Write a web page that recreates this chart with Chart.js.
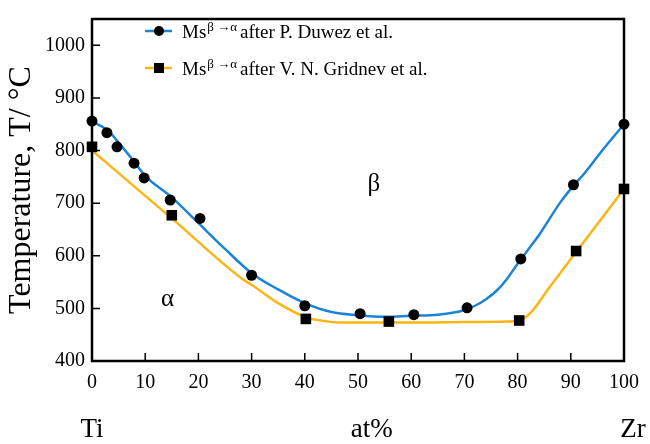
<!DOCTYPE html>
<html>
<head>
<meta charset="utf-8">
<script src="https://cdn.jsdelivr.net/npm/chart.js@4"></script>
<style>
  html, body { margin: 0; padding: 0; background: #fff; }
  #wrap { width: 650px; height: 444px; }
</style>
</head>
<body>
<div id="wrap"><canvas id="msChart" width="650" height="444"></canvas></div>
<script>
// Measured points (at% Zr vs. temperature)
const duwezX = [0, 2.8, 4.7, 7.9, 9.8, 14.7, 20.3, 30, 40, 50.4, 60.5, 70.5, 80.6, 90.5, 100];
const duwezT = [856, 834, 807, 776, 748, 706, 671, 563, 505, 490, 488, 501, 594, 735, 850];
const gridnevX = [0, 15, 40.2, 55.8, 80.3, 91, 100];
const gridnevT = [807, 677, 480, 475, 477, 609, 727];

// Curves
const duwezCurveX = [0, 3, 5, 8, 10, 15, 20, 25, 30, 35, 40, 45, 50, 55, 60, 65, 68, 70, 72, 74, 76, 78, 80, 82, 84, 88, 90.5, 92.5, 95.5, 100];
const duwezCurveT = [855, 838, 815, 778, 752, 711, 662, 613, 567, 536, 510, 493, 487, 484, 486, 488, 492, 497, 505, 517, 533, 556, 585, 612, 639, 701, 733, 756, 795, 850];
const gridnevCurveX = [0, 15, 28.4, 30, 35.3, 40.2, 43, 46.6, 60, 70, 78, 80.3, 82.3, 86, 91, 100];
const gridnevCurveT = [800, 671, 555, 545, 508, 483, 477, 473, 473, 474, 475, 477, 490, 540, 607, 727];

const xTicks = [0, 10, 20, 30, 40, 50, 60, 70, 80, 90, 100];
const yTicks = [400, 500, 600, 700, 800, 900, 1000];

const BLUE = '#1b84d4';
const ORANGE = '#fdb515';
const SERIF = "'Liberation Serif', 'DejaVu Serif', serif";

const toPoints = (xs, ys) => xs.map((x, i) => ({ x: x, y: ys[i] }));

// frame, inward ticks, legend and labels
const figurePlugin = {
    id: 'figure',
    afterDatasetsDraw(chart) {
        const { ctx, chartArea: a, scales } = chart;
        ctx.save();
        ctx.strokeStyle = '#000';
        ctx.lineWidth = 2.5;
        ctx.strokeRect(a.left, a.top, a.right - a.left, a.bottom - a.top);

        ctx.lineWidth = 1.5;
        ctx.beginPath();
        scales.x.ticks.forEach(t => {
            if (t.value <= 0 || t.value >= 100) return;
            const px = scales.x.getPixelForValue(t.value);
            ctx.moveTo(px, a.bottom);
            ctx.lineTo(px, a.bottom - 8);
        });
        scales.y.ticks.forEach(t => {
            if (t.value <= 400) return;
            const py = scales.y.getPixelForValue(t.value);
            ctx.moveTo(a.left, py);
            ctx.lineTo(a.left + 8, py);
        });
        ctx.stroke();

        // legend
        const row = (y, color, square, source) => {
            ctx.strokeStyle = color;
            ctx.lineWidth = 2.5;
            ctx.beginPath();
            ctx.moveTo(145, y);
            ctx.lineTo(172, y);
            ctx.stroke();
            ctx.fillStyle = '#000';
            ctx.beginPath();
            if (square) ctx.rect(154, y - 5, 10, 10);
            else ctx.arc(159, y, 5, 0, Math.PI * 2);
            ctx.fill();
            ctx.textAlign = 'left';
            ctx.textBaseline = 'alphabetic';
            ctx.font = '19px ' + SERIF;
            ctx.fillText('Ms', 182, y + 7);
            let x = 182 + ctx.measureText('Ms').width + 1;
            ctx.font = '13px ' + SERIF;
            ctx.fillText('β →α', x, y);
            x += ctx.measureText('β →α').width + 3;
            ctx.font = '19px ' + SERIF;
            ctx.fillText('after ' + source, x, y + 7);
        };
        row(31, BLUE, false, 'P. Duwez et al.');
        row(68, ORANGE, true, 'V. N. Gridnev et al.');

        // phase labels
        ctx.fillStyle = '#000';
        ctx.textAlign = 'center';
        ctx.textBaseline = 'middle';
        ctx.font = '25px ' + SERIF;
        ctx.fillText('α', scales.x.getPixelForValue(14.2), scales.y.getPixelForValue(517));
        ctx.fillText('β', scales.x.getPixelForValue(53), scales.y.getPixelForValue(735));

        // composition labels
        ctx.textBaseline = 'alphabetic';
        ctx.font = '27px ' + SERIF;
        ctx.fillText('Ti', scales.x.getPixelForValue(0), 437);
        ctx.fillText('at%', scales.x.getPixelForValue(52.6), 437);
        ctx.fillText('Zr', scales.x.getPixelForValue(101.7), 437);

        // y title
        ctx.translate(22, 190);
        ctx.rotate(-Math.PI / 2);
        ctx.font = '32px ' + SERIF;
        ctx.textBaseline = 'middle';
        ctx.fillText('Temperature, T/ °C', 0, 0);
        ctx.restore();
    }
};

new Chart(document.getElementById('msChart').getContext('2d'), {
    type: 'line',
    data: {
        datasets: [
            {
                label: 'Duwez points',
                data: toPoints(duwezX, duwezT),
                showLine: false,
                pointStyle: 'circle',
                pointRadius: 5.5,
                pointBackgroundColor: '#000',
                pointBorderWidth: 0,
                clip: false
            },
            {
                label: 'Gridnev points',
                data: toPoints(gridnevX, gridnevT),
                showLine: false,
                pointStyle: 'rect',
                pointRadius: 7.5,
                pointBackgroundColor: '#000',
                pointBorderWidth: 0,
                clip: false
            },
            {
                label: 'Ms after P. Duwez et al.',
                data: toPoints(duwezCurveX, duwezCurveT),
                borderColor: BLUE,
                borderWidth: 2.5,
                pointRadius: 0,
                cubicInterpolationMode: 'monotone',
                clip: false
            },
            {
                label: 'Ms after V. N. Gridnev et al.',
                data: toPoints(gridnevCurveX, gridnevCurveT),
                borderColor: ORANGE,
                borderWidth: 2.5,
                pointRadius: 0,
                cubicInterpolationMode: 'monotone',
                clip: false
            }
        ]
    },
    options: {
        responsive: false,
        animation: false,
        devicePixelRatio: 1,
        layout: { padding: { left: 0, right: 26, top: 12, bottom: 0 } },
        plugins: {
            legend: { display: false },
            tooltip: { enabled: false }
        },
        scales: {
            x: {
                type: 'linear',
                min: 0,
                max: 100,
                afterBuildTicks: scale => { scale.ticks = xTicks.map(v => ({ value: v })); },
                afterFit: scale => { scale.height = 83; },
                grid: { display: false, drawTicks: false },
                border: { display: false },
                ticks: {
                    color: '#000',
                    padding: 10,
                    maxRotation: 0,
                    font: { family: SERIF, size: 20 },
                    callback: v => String(v)
                }
            },
            y: {
                type: 'linear',
                min: 400,
                max: 1050,
                afterBuildTicks: scale => { scale.ticks = yTicks.map(v => ({ value: v })); },
                afterFit: scale => { scale.width = 92; },
                grid: { display: false, drawTicks: false },
                border: { display: false },
                ticks: {
                    color: '#000',
                    padding: 7,
                    font: { family: SERIF, size: 20 },
                    callback: v => String(v)
                }
            }
        }
    },
    plugins: [figurePlugin]
});
</script>
</body>
</html>
